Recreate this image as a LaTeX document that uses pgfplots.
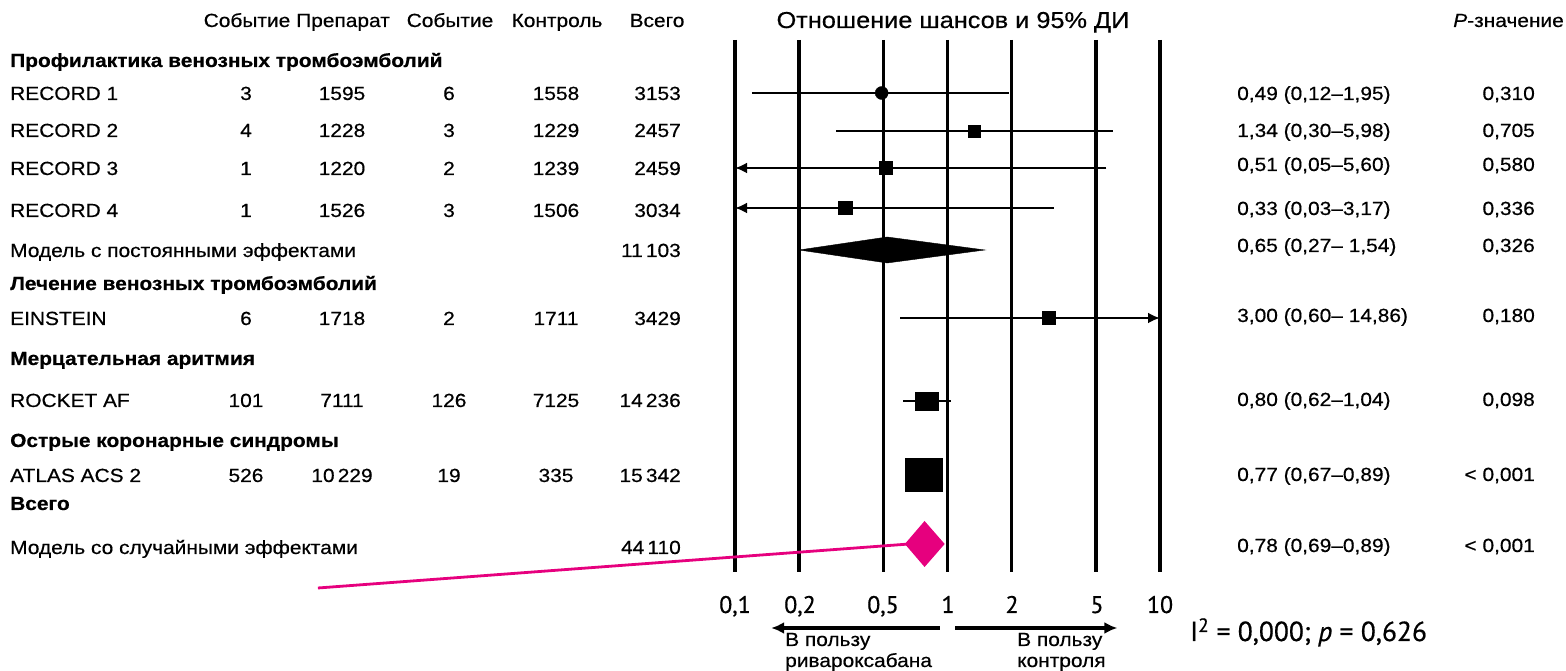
\documentclass[border=0pt]{standalone}
\usepackage{fontspec}
\setmainfont{Liberation Sans}[FakeStretch=1.1, FakeBold=0.5]
\newfontfamily\ptsans{PT Sans}[FakeBold=0.6]
\usepackage{pgfplots}
\pgfplotsset{compat=1.18}
\usetikzlibrary{arrows.meta}
\definecolor{mag}{RGB}{230,0,126}
\newcommand\ft{\fontsize{19}{22}\selectfont}
\newcommand\row[7]{%
 \node[anchor=base west] at (10,#1) {#2};
 \node[anchor=base] at (246,#1) {#3};
 \node[anchor=base] at (342,#1) {#4};
 \node[anchor=base] at (449,#1) {#5};
 \node[anchor=base] at (556,#1) {#6};
 \node[anchor=base east] at (681,#1) {#7};}
\begin{document}
\begin{tikzpicture}
\path[use as bounding box] (0,0) rectangle (1566pt,671pt);
\begin{axis}[
  at={(735pt,0pt)}, anchor=south west,
  scale only axis, width=425pt, height=671pt,
  xmode=log, xmin=0.1, xmax=10, ymin=-671, ymax=0,
  hide axis, clip=false]
% reference lines
\pgfplotsinvokeforeach{0.1,0.2,0.5,1,2,5,10}{
  \addplot[black, line width=3.2pt] coordinates {(#1,-40) (#1,-572)};
}
% RECORD 1
\addplot[black, line width=2.9pt] coordinates {(0.12,-93) (1.95,-93)};
\addplot[only marks, mark=*, mark size=6.5pt, black] coordinates {(0.49,-93)};
% RECORD 2
\addplot[black, line width=2.7pt] coordinates {(0.30,-131) (5.98,-131)};
\addplot[only marks, mark=square*, mark size=6pt, black] coordinates {(1.34,-131)};
% RECORD 3
\addplot[black, line width=2.7pt, -{Latex[length=12pt,width=11pt]}] coordinates {(5.60,-168) (0.1,-168)};
\addplot[only marks, mark=square*, mark size=6.5pt, black] coordinates {(0.51,-168)};
% RECORD 4
\addplot[black, line width=2.9pt, -{Latex[length=12pt,width=11pt]}] coordinates {(3.17,-208) (0.1,-208)};
\addplot[only marks, mark=square*, mark size=6.5pt, mark options={xscale=1.1}, black] coordinates {(0.33,-208)};
% fixed effects diamond
\addplot[fill=black, draw=black] coordinates {(0.2,-250) (0.52,-237) (1.5,-250) (0.52,-263)} -- cycle;
% EINSTEIN
\addplot[black, line width=2.7pt, -{Latex[length=12pt,width=11pt]}] coordinates {(0.60,-318) (10,-318)};
\addplot[only marks, mark=square*, mark size=6.5pt, black] coordinates {(3.00,-318)};
% ROCKET AF
\addplot[black, line width=2.7pt] coordinates {(0.62,-401) (1.04,-401)};
\addplot[only marks, mark=square*, mark size=10pt, mark options={xscale=1.15, yscale=0.9}, black] coordinates {(0.80,-401)};
% ATLAS ACS 2
\addplot[only marks, mark=square*, mark size=17.5pt, mark options={xscale=1.06, yscale=0.95}, black] coordinates {(0.77,-475)};
% random effects diamond (magenta) and pointer
\addplot[mag, line width=2.8pt] coordinates {(0.00109,-588) (0.66,-544)};
\addplot[fill=mag, draw=none] coordinates {(0.63,-544) (0.78,-521) (0.97,-544) (0.78,-567)} -- cycle;
% favour arrows
\addplot[black, line width=3.2pt, -{Latex[length=13pt,width=12pt]}] coordinates {(0.92,-628) (0.148,-628)};
\addplot[black, line width=3.2pt, -{Latex[length=13pt,width=12pt]}] coordinates {(1.085,-628) (6.3,-628)};
\end{axis}
\begin{scope}[x=1pt, y=-1pt, shift={(0pt,671pt)}, every node/.style={inner sep=0pt, font=\ft}]
% header
\node[anchor=base] at (247,27) {Событие};
\node[anchor=base] at (343,27) {Препарат};
\node[anchor=base] at (450,27) {Событие};
\node[anchor=base] at (557,27) {Контроль};
\node[anchor=base] at (657,27) {Всего};
\node[anchor=base, font=\fontsize{23}{26}\selectfont] at (953,28) {Отношение шансов и 95\% ДИ};
\node[anchor=base east] at (1564,27) {\textit{P}-значение};
% left table
\node[anchor=base west] at (10,67) {\bfseries Профилактика венозных тромбоэмболий};
\row{100}{RECORD 1}{3}{1595}{6}{1558}{3153}
\row{137}{RECORD 2}{4}{1228}{3}{1229}{2457}
\row{175}{RECORD 3}{1}{1220}{2}{1239}{2459}
\row{217}{RECORD 4}{1}{1526}{3}{1506}{3034}
\row{257}{Модель с постоянными эффектами}{}{}{}{}{11\,103}
\node[anchor=base west] at (10,290) {\bfseries Лечение венозных тромбоэмболий};
\row{325}{EINSTEIN}{6}{1718}{2}{1711}{3429}
\node[anchor=base west] at (10,365) {\bfseries Мерцательная аритмия};
\row{407}{ROCKET AF}{101}{7111}{126}{7125}{14\,236}
\node[anchor=base west] at (10,447) {\bfseries Острые коронарные синдромы};
\row{482}{ATLAS ACS 2}{526}{10\,229}{19}{335}{15\,342}
\node[anchor=base west] at (10,510) {\bfseries Всего};
\row{554}{Модель со случайными эффектами}{}{}{}{}{44\,110}
% right columns
\foreach \y/\o/\p in {100/{0,49 (0,12–1,95)}/{0,310}, 137/{1,34 (0,30–5,98)}/{0,705},
  171/{0,51 (0,05–5,60)}/{0,580}, 215/{0,33 (0,03–3,17)}/{0,336},
  252/{0,65 (0,27– 1,54)}/{0,326}, 322/{3,00 (0,60– 14,86)}/{0,180},
  406/{0,80 (0,62–1,04)}/{0,098}, 481/{0,77 (0,67–0,89)}/{< 0,001},
  552/{0,78 (0,69–0,89)}/{< 0,001}}{
  \node[anchor=base west] at (1237,\y) {\o};
  \node[anchor=base east] at (1535,\y) {\p};
}
% bottom scale labels
\foreach \x/\l in {735/{0,1}, 800/{0,2}, 883/{0,5}, 948/1, 1012/2, 1097/5, 1160/10}{
  \node[anchor=base, font=\ptsans\fontsize{24}{28}\selectfont] at (\x,613) {\l};
}
\node[anchor=base west] at (785,646) {В пользу};
\node[anchor=base west] at (785,667) {ривароксабана};
\node[anchor=base west] at (1017,646) {В пользу};
\node[anchor=base west] at (1017,667) {контроля};
\node[anchor=base west, font=\ptsans\fontsize{27.5}{31}\selectfont] at (1190,641) {I\textsuperscript{2} = 0,000; \textit{p} = 0,626};
\end{scope}
\end{tikzpicture}
\end{document}
